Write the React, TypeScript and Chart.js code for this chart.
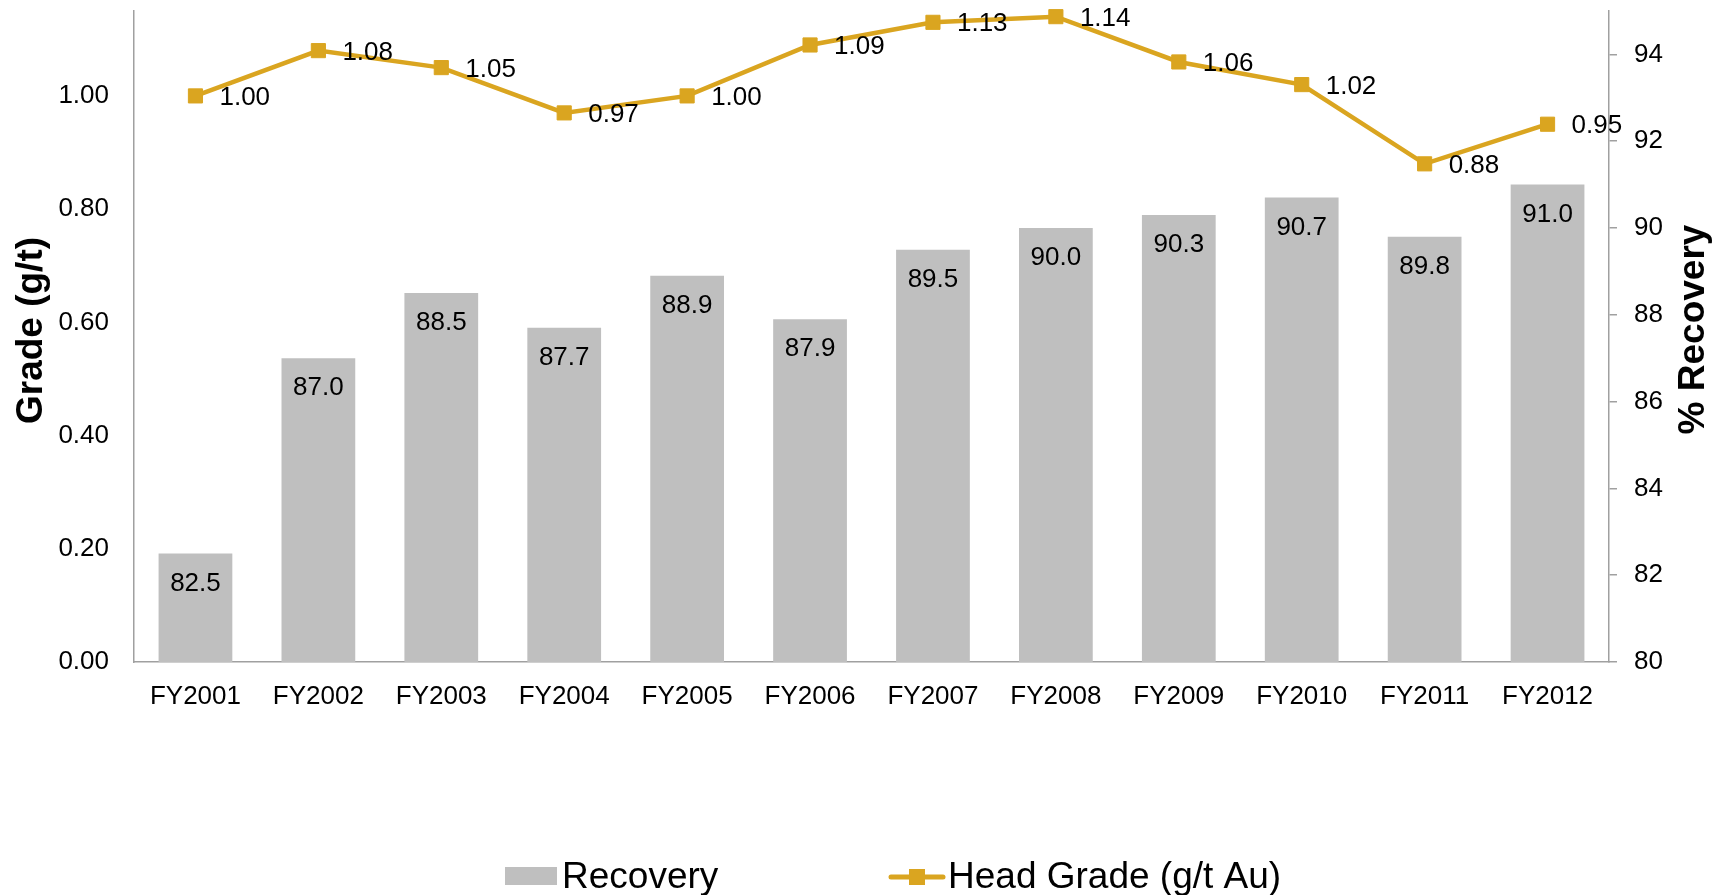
import React, { useEffect, useRef } from "react";
import { Chart, registerables } from "chart.js";

Chart.register(...registerables);

const categories = [
  "FY2001", "FY2002", "FY2003", "FY2004", "FY2005", "FY2006",
  "FY2007", "FY2008", "FY2009", "FY2010", "FY2011", "FY2012",
];
const recovery = [82.5, 87.0, 88.5, 87.7, 88.9, 87.9, 89.5, 90.0, 90.3, 90.7, 89.8, 91.0];
const headGrade = [1.0, 1.08, 1.05, 0.97, 1.0, 1.09, 1.13, 1.14, 1.06, 1.02, 0.88, 0.95];
const gradeTicks = [0, 0.2, 0.4, 0.6, 0.8, 1.0];
const recoveryTicks = [80, 82, 84, 86, 88, 90, 92, 94];
const gradeAxisTitle = "Grade (g/t)";
const recoveryAxisTitle = "% Recovery";

const FONT = "'Liberation Sans', Arial, Helvetica, sans-serif";
const GOLD = "#DAA520";
const GREY_BAR = "#BFBFBF";
const AXIS = "#A0A0A0";

const overlayPlugin = {
  id: "overlay",
  afterDatasetsDraw(chart: any) {
    const ctx = chart.ctx as CanvasRenderingContext2D;
    ctx.save();
    ctx.fillStyle = "#000";
    // bar value labels (inside end)
    const barMeta = chart.getDatasetMeta(1);
    ctx.font = `26px ${FONT}`;
    ctx.textAlign = "center";
    ctx.textBaseline = "middle";
    barMeta.data.forEach((el: any, i: number) => {
      ctx.fillText(recovery[i].toFixed(1), el.x, el.y + 30);
    });
    // line value labels (right)
    const lineMeta = chart.getDatasetMeta(0);
    ctx.font = `26px ${FONT}`;
    ctx.textAlign = "left";
    lineMeta.data.forEach((el: any, i: number) => {
      ctx.fillText(headGrade[i].toFixed(2), el.x + 24, el.y + 2);
    });
    ctx.restore();
  },
  afterDraw(chart: any) {
    const ctx = chart.ctx as CanvasRenderingContext2D;
    const area = chart.chartArea;
    const midY = (area.top + area.bottom) / 2 - 6;
    ctx.save();
    ctx.fillStyle = "#000";
    ctx.font = `bold 37px ${FONT}`;
    ctx.textAlign = "center";
    ctx.textBaseline = "alphabetic";
    // left axis title
    ctx.save();
    ctx.translate(42, midY);
    ctx.rotate(-Math.PI / 2);
    ctx.fillText(gradeAxisTitle, 0, 0);
    ctx.restore();
    // right axis title
    ctx.save();
    ctx.translate(area.right + 95, midY - 1);
    ctx.rotate(-Math.PI / 2);
    ctx.fillText(recoveryAxisTitle, 0, 0);
    ctx.restore();

    // legend
    const ds = chart.data.datasets;
    ctx.font = `37px ${FONT}`;
    ctx.textAlign = "left";
    ctx.textBaseline = "alphabetic";
    ctx.fillStyle = GREY_BAR;
    ctx.fillRect(505, 867, 52, 18);
    ctx.fillStyle = "#000";
    ctx.fillText(ds[1].label, 562, 888);

    ctx.strokeStyle = GOLD;
    ctx.lineWidth = 5;
    ctx.lineCap = "round";
    ctx.beginPath();
    ctx.moveTo(891, 877);
    ctx.lineTo(943, 877);
    ctx.stroke();
    ctx.fillStyle = GOLD;
    ctx.fillRect(909, 869, 16, 16);
    ctx.fillStyle = "#000";
    ctx.fillText(ds[0].label, 948, 888);
    ctx.restore();
  },
};

function zeroPad(scale: any) {
  scale.paddingTop = 0;
  scale.paddingBottom = 0;
  scale.paddingLeft = 0;
  scale.paddingRight = 0;
}

export default function App() {
  const canvasRef = useRef<HTMLCanvasElement | null>(null);

  useEffect(() => {
    const canvas = canvasRef.current;
    if (!canvas) return;
    const chart = new Chart(canvas, {
      type: "bar",
      data: {
        labels: categories,
        datasets: [
          {
            type: "line",
            label: "Head Grade (g/t Au)",
            data: headGrade,
            yAxisID: "yGrade",
            borderColor: GOLD,
            backgroundColor: GOLD,
            borderWidth: 4.5,
            pointStyle: "rect",
            pointRadius: 10,
            pointBorderWidth: 1,
            pointBackgroundColor: GOLD,
            pointBorderColor: GOLD,
            tension: 0,
            clip: false,
            order: 0,
          } as any,
          {
            type: "bar",
            label: "Recovery",
            data: recovery,
            yAxisID: "yRec",
            backgroundColor: GREY_BAR,
            borderWidth: 0,
            barPercentage: 0.6,
            categoryPercentage: 1.0,
            order: 1,
          } as any,
        ],
      },
      options: {
        responsive: false,
        animation: false,
        events: [],
        layout: { padding: { top: 9, left: 0, right: 0, bottom: 133 } },
        plugins: {
          legend: { display: false },
          tooltip: { enabled: false },
          title: { display: false },
        },
        scales: {
          x: {
            type: "category",
            offset: true,
            grid: { display: false, drawTicks: false },
            border: { display: true, color: AXIS, width: 1.5 },
            ticks: {
              color: "#000",
              font: { family: FONT, size: 26 },
              padding: 19,
              maxRotation: 0,
              autoSkip: false,
            },
            afterFit: (s: any) => {
              s.height = 100;
              zeroPad(s);
            },
          },
          yGrade: {
            type: "linear",
            position: "left",
            min: 0,
            max: 1.15,
            grid: { display: false, drawTicks: false },
            border: { display: true, color: AXIS, width: 1.5 },
            ticks: {
              color: "#000",
              font: { family: FONT, size: 26 },
              padding: 25,
              callback: (v: any) => Number(v).toFixed(2),
            },
            afterBuildTicks: (s: any) => {
              s.ticks = gradeTicks.map((v) => ({ value: v }));
            },
            afterFit: (s: any) => {
              s.width = 134;
              zeroPad(s);
            },
          },
          yRec: {
            type: "linear",
            position: "right",
            min: 80,
            max: 95,
            grid: {
              display: true,
              drawOnChartArea: false,
              drawTicks: true,
              tickLength: 8,
              color: AXIS,
              lineWidth: 1.5,
            },
            border: { display: true, color: AXIS, width: 1.5 },
            ticks: {
              color: "#000",
              font: { family: FONT, size: 26 },
              padding: 17,
              callback: (v: any) => String(v),
            },
            afterBuildTicks: (s: any) => {
              s.ticks = recoveryTicks.map((v) => ({ value: v }));
            },
            afterFit: (s: any) => {
              s.width = 116;
              zeroPad(s);
            },
          },
        },
      } as any,
      plugins: [overlayPlugin],
    });
    return () => chart.destroy();
  }, []);

  return (
    <div
      style={{
        position: "fixed",
        left: 0,
        top: 0,
        width: 1725,
        height: 895,
        background: "#fff",
      }}
    >
      <canvas ref={canvasRef} width={1725} height={895} style={{ display: "block" }} />
    </div>
  );
}
